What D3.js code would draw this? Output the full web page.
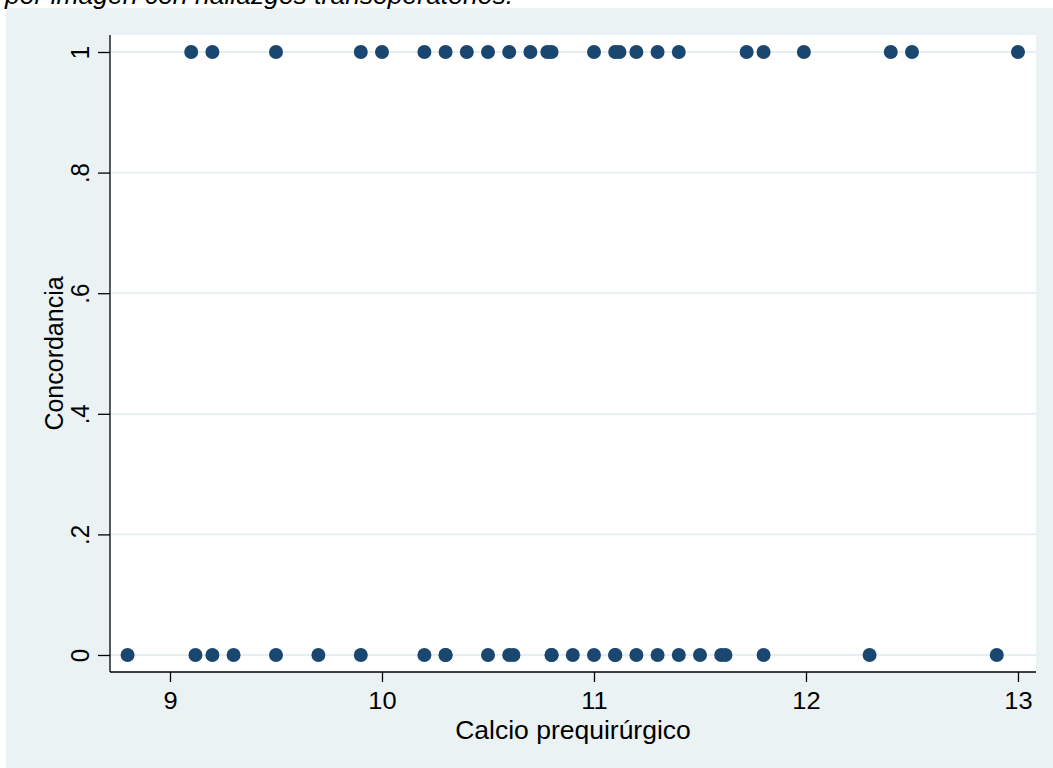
<!DOCTYPE html>
<html>
<head>
<meta charset="utf-8">
<script src="https://cdn.jsdelivr.net/npm/d3@7"></script>
<style>
  html, body { margin: 0; padding: 0; background: #ffffff; }
  svg { display: block; }
  text { font-family: Helvetica, Arial, "Liberation Sans", sans-serif; fill: #000; }
</style>
</head>
<body>
<svg id="chart" width="1053" height="768"></svg>
<script>
// ---- data ----
const titleText = "por imagen con hallazgos transoperatorios.";
const xTitle = "Calcio prequirúrgico";
const yTitle = "Concordancia";
const calcioConcordante = [9.1, 9.2, 9.5, 9.9, 10.0, 10.2, 10.3, 10.4, 10.5, 10.6, 10.7, 10.78, 10.8,
  11.0, 11.1, 11.12, 11.2, 11.3, 11.4, 11.72, 11.8, 11.99, 12.4, 12.5, 13.0];
const calcioNoConcordante = [8.8, 9.12, 9.2, 9.3, 9.5, 9.7, 9.9, 10.2, 10.3, 10.3, 10.5, 10.6, 10.62, 10.8, 10.8,
  10.9, 11.0, 11.1, 11.1, 11.2, 11.3, 11.4, 11.5, 11.6, 11.62, 11.8, 12.3, 12.9];
const xTicks = [9, 10, 11, 12, 13];
const yTicks = [0, 0.2, 0.4, 0.6, 0.8, 1];
const yTickLabels = ["0", ".2", ".4", ".6", ".8", "1"];

const points = calcioConcordante.map(v => ({x: v, y: 1}))
  .concat(calcioNoConcordante.map(v => ({x: v, y: 0})));

// ---- layout ----
const W = 1053, H = 768;
const plot = {left: 110, right: 1036, top: 35, bottom: 672};
const sx = 1.06; // horizontal text stretch
const svg = d3.select("#chart");

svg.append("rect").attr("x", 6).attr("y", 8).attr("width", W - 6).attr("height", H - 8)
  .attr("fill", "#eaf2f3");
svg.append("rect").attr("x", plot.left).attr("y", plot.top)
  .attr("width", plot.right - plot.left).attr("height", plot.bottom - plot.top)
  .attr("fill", "#ffffff");

const x = d3.scaleLinear().domain([8.717, 13.085]).range([plot.left, plot.right]);
const y = d3.scaleLinear().domain([-0.0282, 1.0282]).range([plot.bottom, plot.top]);

// gridlines
svg.append("g").selectAll("line").data(yTicks).join("line")
  .attr("x1", plot.left).attr("x2", plot.right)
  .attr("y1", d => y(d)).attr("y2", d => y(d))
  .attr("stroke", "#e6eef0").attr("stroke-width", 1.8);

// axes
const xAxis = d3.axisBottom(x).tickValues(xTicks).tickSize(10).tickPadding(4)
  .tickFormat(d3.format("d"));
const gx = svg.append("g").attr("transform", `translate(0,${plot.bottom})`).call(xAxis);
gx.select(".domain").attr("stroke", "#000").attr("stroke-width", 1.3)
  .attr("d", `M${plot.left},0H${plot.right}`);
gx.selectAll(".tick line").attr("stroke", "#000").attr("stroke-width", 1.3);
gx.selectAll(".tick text").remove();
gx.selectAll(".tick").append("text")
  .attr("transform", `translate(0,37) scale(${sx},1)`)
  .attr("text-anchor", "middle")
  .style("font-size", "24px")
  .text(d => d3.format("d")(d));

const yAxis = d3.axisLeft(y).tickValues(yTicks).tickSize(12);
const gy = svg.append("g").attr("transform", `translate(${plot.left},0)`).call(yAxis);
gy.select(".domain").attr("stroke", "#000").attr("stroke-width", 1.3)
  .attr("d", `M0,${plot.top}V${plot.bottom}`);
gy.selectAll(".tick line").attr("stroke", "#000").attr("stroke-width", 1.3);
gy.selectAll(".tick text").remove();
gy.selectAll(".tick").append("text")
  .attr("transform", `translate(-21,0) scale(${sx},1) rotate(-90)`)
  .attr("text-anchor", "middle")
  .style("font-size", "24px")
  .text((d, i) => yTickLabels[i]);

// points
svg.append("g").selectAll("circle").data(points).join("circle")
  .attr("cx", d => x(d.x)).attr("cy", d => y(d.y)).attr("r", 7)
  .attr("fill", "#1a476f");

// axis titles
svg.append("text")
  .attr("transform", `translate(${(plot.left + plot.right) / 2},739) scale(${sx},1)`)
  .attr("text-anchor", "middle").style("font-size", "25px").text(xTitle);
svg.append("text")
  .attr("transform", `translate(63,${(plot.top + plot.bottom) / 2}) scale(${sx},1) rotate(-90)`)
  .attr("text-anchor", "middle").style("font-size", "25px").text(yTitle);

// title, clipped at the top edge as in the reference
svg.append("text")
  .attr("transform", `translate(5,4) scale(${sx},1)`)
  .attr("text-anchor", "start").style("font-size", "25px").style("font-style", "italic")
  .text(titleText);
</script>
</body>
</html>
